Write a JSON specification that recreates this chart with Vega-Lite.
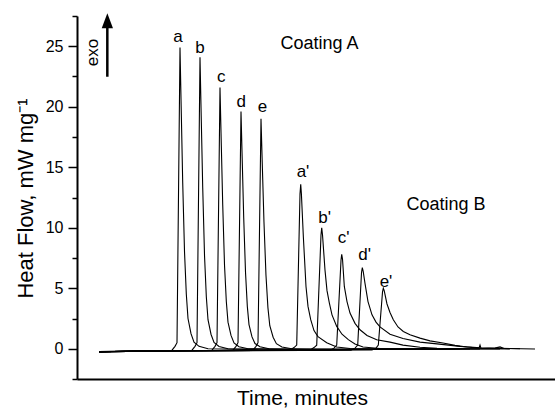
{
  "$schema": "https://vega.github.io/schema/vega-lite/v6.json",
  "width": 478,
  "height": 363,
  "autosize": {"type": "none"},
  "padding": {"left": 77, "top": 16, "right": 0, "bottom": 29},
  "background": "white",
  "config": {
    "view": {"stroke": null},
    "font": "Liberation Sans",
    "axis": {"grid": false, "domainColor": "black", "tickColor": "black", "labelColor": "black", "titleColor": "black", "labelFont": "Liberation Sans", "titleFont": "Liberation Sans", "titleFontWeight": "normal"},
    "text": {"font": "Liberation Sans", "color": "black"}
  },
  "datasets": {
    "curves": [
      {"s":"a","t":5.5,"v":-0.27},{"s":"a","t":15.75,"v":-0.2},{"s":"a","t":23.75,"v":-0.12},{"s":"a","t":24.5,"v":0.2},{"s":"a","t":25,"v":0.5},{"s":"a","t":25.75,"v":24.9},{"s":"a","t":26.08,"v":19.4},{"s":"a","t":26.43,"v":13.7},{"s":"a","t":26.88,"v":8.0},{"s":"a","t":27.33,"v":4.5},{"s":"a","t":27.75,"v":2.5},{"s":"a","t":28.5,"v":1.25},{"s":"a","t":29.25,"v":0.55},{"s":"a","t":30.5,"v":0.2},{"s":"a","t":32.75,"v":0.0},{"s":"a","t":45.75,"v":-0.08},{"s":"a","t":68.25,"v":-0.05},{"s":"a","t":90.75,"v":-0.02},
      {"s":"b","t":5.5,"v":-0.25},{"s":"b","t":16,"v":-0.19},{"s":"b","t":28.75,"v":-0.12},{"s":"b","t":29.5,"v":0.2},{"s":"b","t":30,"v":0.5},{"s":"b","t":30.75,"v":24.1},{"s":"b","t":31.08,"v":18.8},{"s":"b","t":31.43,"v":13.3},{"s":"b","t":31.88,"v":7.7},{"s":"b","t":32.33,"v":4.3},{"s":"b","t":32.75,"v":2.4},{"s":"b","t":33.5,"v":1.2},{"s":"b","t":34.25,"v":0.53},{"s":"b","t":35.5,"v":0.19},{"s":"b","t":37.75,"v":0},{"s":"b","t":55,"v":-0.07},{"s":"b","t":80,"v":-0.04},{"s":"b","t":93.25,"v":-0.02},
      {"s":"c","t":5.5,"v":-0.24},{"s":"c","t":16,"v":-0.18},{"s":"c","t":33.75,"v":-0.12},{"s":"c","t":34.5,"v":0.2},{"s":"c","t":35,"v":0.5},{"s":"c","t":35.75,"v":21.6},{"s":"c","t":36.08,"v":16.8},{"s":"c","t":36.43,"v":11.9},{"s":"c","t":36.88,"v":6.9},{"s":"c","t":37.33,"v":3.9},{"s":"c","t":37.75,"v":2.2},{"s":"c","t":38.5,"v":1.1},{"s":"c","t":39.25,"v":0.48},{"s":"c","t":40.5,"v":0.17},{"s":"c","t":42.75,"v":0},{"s":"c","t":60,"v":-0.06},{"s":"c","t":82,"v":-0.04},{"s":"c","t":94.5,"v":-0.02},
      {"s":"d","t":5.5,"v":-0.26},{"s":"d","t":16,"v":-0.2},{"s":"d","t":39,"v":-0.12},{"s":"d","t":39.75,"v":0.2},{"s":"d","t":40.25,"v":0.5},{"s":"d","t":41,"v":19.6},{"s":"d","t":41.33,"v":15.3},{"s":"d","t":41.68,"v":10.8},{"s":"d","t":42.13,"v":6.3},{"s":"d","t":42.58,"v":3.5},{"s":"d","t":43,"v":2.0},{"s":"d","t":43.75,"v":0.98},{"s":"d","t":44.5,"v":0.43},{"s":"d","t":45.75,"v":0.16},{"s":"d","t":48,"v":0},{"s":"d","t":65,"v":-0.06},{"s":"d","t":85,"v":-0.03},{"s":"d","t":95.75,"v":-0.02},
      {"s":"e","t":5.5,"v":-0.25},{"s":"e","t":16,"v":-0.19},{"s":"e","t":44,"v":-0.12},{"s":"e","t":44.75,"v":0.2},{"s":"e","t":45.25,"v":0.5},{"s":"e","t":46,"v":19.0},{"s":"e","t":46.36,"v":14.8},{"s":"e","t":46.74,"v":10.5},{"s":"e","t":47.24,"v":6.1},{"s":"e","t":47.73,"v":3.4},{"s":"e","t":48.2,"v":1.9},{"s":"e","t":49.03,"v":0.95},{"s":"e","t":49.85,"v":0.42},{"s":"e","t":51.23,"v":0.15},{"s":"e","t":53.7,"v":0},{"s":"e","t":70,"v":-0.05},{"s":"e","t":88,"v":-0.03},{"s":"e","t":98.25,"v":-0.02},
      {"s":"a'","t":5.5,"v":-0.26},{"s":"a'","t":16,"v":-0.2},{"s":"a'","t":53.25,"v":-0.12},{"s":"a'","t":54.25,"v":0.1},{"s":"a'","t":54.93,"v":0.3},{"s":"a'","t":55.75,"v":12.8},{"s":"a'","t":55.93,"v":13.6},{"s":"a'","t":56.1,"v":12.8},{"s":"a'","t":56.58,"v":9.3},{"s":"a'","t":57.25,"v":5.15},{"s":"a'","t":57.75,"v":3.5},{"s":"a'","t":58.43,"v":2.4},{"s":"a'","t":59.25,"v":1.5},{"s":"a'","t":60.25,"v":1.0},{"s":"a'","t":62.43,"v":0.5},{"s":"a'","t":64.93,"v":0.15},{"s":"a'","t":68.25,"v":0.02},{"s":"a'","t":80.75,"v":-0.03},{"s":"a'","t":100.75,"v":-0.02},
      {"s":"b'","t":5.5,"v":-0.25},{"s":"b'","t":16,"v":-0.19},{"s":"b'","t":58.25,"v":-0.12},{"s":"b'","t":59.25,"v":0.1},{"s":"b'","t":59.93,"v":0.3},{"s":"b'","t":61,"v":9.4},{"s":"b'","t":61.18,"v":10.0},{"s":"b'","t":61.38,"v":9.4},{"s":"b'","t":62,"v":6.5},{"s":"b'","t":62.5,"v":4.8},{"s":"b'","t":63.08,"v":3.8},{"s":"b'","t":63.75,"v":2.8},{"s":"b'","t":64.93,"v":1.85},{"s":"b'","t":66.25,"v":1.2},{"s":"b'","t":67.83,"v":0.75},{"s":"b'","t":69.5,"v":0.4},{"s":"b'","t":71.5,"v":0.15},{"s":"b'","t":75.75,"v":0.02},{"s":"b'","t":90,"v":-0.02},{"s":"b'","t":105.75,"v":-0.01},
      {"s":"c'","t":5.5,"v":-0.24},{"s":"c'","t":16,"v":-0.18},{"s":"c'","t":63.25,"v":-0.12},{"s":"c'","t":64.25,"v":0.05},{"s":"c'","t":64.93,"v":0.3},{"s":"c'","t":66,"v":7.3},{"s":"c'","t":66.18,"v":7.8},{"s":"c'","t":66.38,"v":7.4},{"s":"c'","t":66.83,"v":5.15},{"s":"c'","t":67.5,"v":3.9},{"s":"c'","t":68.25,"v":2.95},{"s":"c'","t":69.5,"v":2.1},{"s":"c'","t":70.75,"v":1.57},{"s":"c'","t":72.5,"v":1.1},{"s":"c'","t":74.93,"v":0.75},{"s":"c'","t":78.25,"v":0.55},{"s":"c'","t":81.5,"v":0.3},{"s":"c'","t":85.75,"v":0.12},{"s":"c'","t":90,"v":0.03},{"s":"c'","t":98.25,"v":0},{"s":"c'","t":108.25,"v":-0.01},
      {"s":"d'","t":5.5,"v":-0.26},{"s":"d'","t":16,"v":-0.2},{"s":"d'","t":68.5,"v":-0.12},{"s":"d'","t":69.5,"v":0.05},{"s":"d'","t":70.18,"v":0.3},{"s":"d'","t":71.13,"v":6.3},{"s":"d'","t":71.33,"v":6.7},{"s":"d'","t":71.55,"v":6.4},{"s":"d'","t":72,"v":5.4},{"s":"d'","t":72.75,"v":3.9},{"s":"d'","t":73.75,"v":2.8},{"s":"d'","t":74.75,"v":2.2},{"s":"d'","t":75.75,"v":1.8},{"s":"d'","t":78.25,"v":1.2},{"s":"d'","t":81.5,"v":0.85},{"s":"d'","t":85.75,"v":0.55},{"s":"d'","t":90,"v":0.4},{"s":"d'","t":95.75,"v":0.2},{"s":"d'","t":100.75,"v":0.08},{"s":"d'","t":105.75,"v":0.03},{"s":"d'","t":110.75,"v":0},
      {"s":"e'","t":5.5,"v":-0.25},{"s":"e'","t":16,"v":-0.19},{"s":"e'","t":73.75,"v":-0.1},{"s":"e'","t":74.75,"v":0.05},{"s":"e'","t":75.33,"v":0.3},{"s":"e'","t":76.38,"v":4.7},{"s":"e'","t":76.58,"v":5.0},{"s":"e'","t":76.8,"v":4.8},{"s":"e'","t":77.5,"v":3.7},{"s":"e'","t":78.25,"v":3.0},{"s":"e'","t":79.08,"v":2.4},{"s":"e'","t":80.25,"v":1.8},{"s":"e'","t":81.58,"v":1.43},{"s":"e'","t":83.25,"v":1.15},{"s":"e'","t":85.75,"v":0.88},{"s":"e'","t":88.25,"v":0.65},{"s":"e'","t":91.5,"v":0.47},{"s":"e'","t":94.5,"v":0.28},{"s":"e'","t":97.43,"v":0.14},{"s":"e'","t":100.5,"v":0.05},{"s":"e'","t":100.75,"v":0.3},{"s":"e'","t":101,"v":0.02},{"s":"e'","t":104.5,"v":0.05},{"s":"e'","t":105.75,"v":0.15},{"s":"e'","t":106.75,"v":0.02},{"s":"e'","t":114.5,"v":-0.02}
    ],
    "letters": [
      {"t":25.25,"v":25.35,"label":"a"},
      {"t":30.75,"v":24.47,"label":"b"},
      {"t":36.08,"v":22.07,"label":"c"},
      {"t":41.08,"v":20.0,"label":"d"},
      {"t":46.38,"v":19.54,"label":"e"},
      {"t":56.5,"v":14.22,"label":"a'"},
      {"t":61.88,"v":10.37,"label":"b'"},
      {"t":66.63,"v":8.72,"label":"c'"},
      {"t":71.88,"v":7.33,"label":"d'"},
      {"t":77.25,"v":5.13,"label":"e'"}
    ],
    "coatings": [
      {"t":60.63,"v":24.75,"label":"Coating A"},
      {"t":92.25,"v":11.47,"label":"Coating B"}
    ],
    "exo": [{"t":5.33,"v":24.48,"label":"exo"}],
    "arrow": [{"t":7.58,"v":22.48,"v2":26.7}],
    "head": [{"t":7.58,"v":27.1}]
  },
  "layer": [
    {
      "data": {"name": "curves"},
      "mark": {"type": "line", "color": "black", "strokeWidth": 1.1},
      "encoding": {
        "x": {"field": "t", "type": "quantitative", "scale": {"domain": [0, 119.5], "nice": false, "zero": false},
          "axis": {"orient": "bottom", "title": "Time, minutes", "labels": false, "ticks": false, "domain": true, "domainWidth": 2, "titleFontSize": 21, "titleX": 225, "titleY": 25, "titleBaseline": "alphabetic", "titleAlign": "center"}},
        "y": {"field": "v", "type": "quantitative", "scale": {"domain": [-2.5, 27.5], "nice": false, "zero": false},
          "axis": {"values": [0, 5, 10, 15, 20, 25], "tickSize": 9, "tickWidth": 1.5, "domainWidth": 2, "labelFontSize": 16, "labelPadding": 5, "title": "Heat Flow, mW mg⁻¹", "titleFontSize": 22, "titleAngle": 270, "titleX": -45, "titleY": 182, "titleBaseline": "alphabetic", "titleAlign": "center"}},
        "detail": {"field": "s"}
      }
    },
    {
      "data": {"name": "arrow"},
      "mark": {"type": "rule", "color": "black", "strokeWidth": 2.5},
      "encoding": {
        "x": {"field": "t", "type": "quantitative", "axis": null},
        "y": {"field": "v", "type": "quantitative", "axis": {"orient": "left", "values": [-2.5, 2.5, 7.5, 12.5, 17.5, 22.5, 27.5], "tickSize": 5, "tickWidth": 1.5, "labels": false, "domain": false, "title": null}},
        "y2": {"field": "v2"}
      }
    },
    {
      "data": {"name": "head"},
      "mark": {"type": "point", "shape": "M0,-1L0.75,1L-0.75,1Z", "size": 225, "filled": true, "color": "black", "opacity": 1},
      "encoding": {
        "x": {"field": "t", "type": "quantitative", "axis": null},
        "y": {"field": "v", "type": "quantitative", "axis": null}
      }
    },
    {
      "data": {"name": "letters"},
      "mark": {"type": "text", "fontSize": 17, "align": "center", "baseline": "alphabetic"},
      "encoding": {
        "x": {"field": "t", "type": "quantitative", "axis": null},
        "y": {"field": "v", "type": "quantitative", "axis": null},
        "text": {"field": "label"}
      }
    },
    {
      "data": {"name": "coatings"},
      "mark": {"type": "text", "fontSize": 18, "align": "center", "baseline": "alphabetic"},
      "encoding": {
        "x": {"field": "t", "type": "quantitative", "axis": null},
        "y": {"field": "v", "type": "quantitative", "axis": null},
        "text": {"field": "label"}
      }
    },
    {
      "data": {"name": "exo"},
      "mark": {"type": "text", "fontSize": 17, "align": "center", "baseline": "alphabetic", "angle": 270},
      "encoding": {
        "x": {"field": "t", "type": "quantitative", "axis": null},
        "y": {"field": "v", "type": "quantitative", "axis": null},
        "text": {"field": "label"}
      }
    }
  ],
  "resolve": {"axis": {"x": "independent", "y": "independent"}}
}
